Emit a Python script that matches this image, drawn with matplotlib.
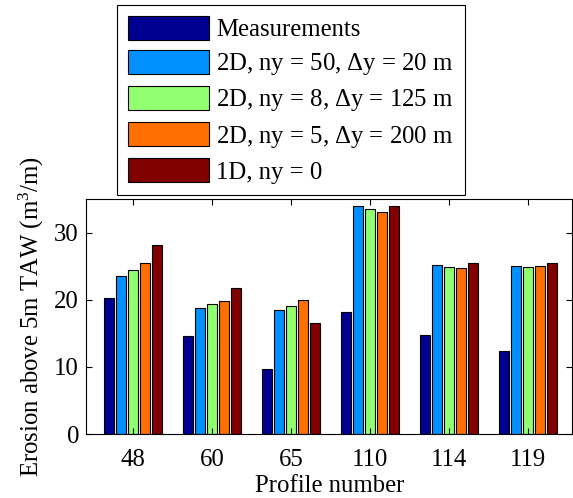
import matplotlib
matplotlib.use("Agg")
import matplotlib.pyplot as plt
import numpy as np

profiles = ["48", "60", "65", "110", "114", "119"]
series_labels = ["Measurements",
                 "2D, ny = 50, $\\Delta$y = 20 m",
                 "2D, ny = 8, $\\Delta$y = 125 m",
                 "2D, ny = 5, $\\Delta$y = 200 m",
                 "1D, ny = 0"]
measurements = [20.2, 14.6, 9.7, 18.2, 14.8, 12.4]
ny50 = [23.6, 18.7, 18.5, 34.0, 25.1, 25.0]
ny8 = [24.4, 19.3, 19.0, 33.5, 24.8, 24.9]
ny5 = [25.4, 19.8, 20.0, 33.1, 24.7, 25.0]
one_d = [28.2, 21.7, 16.6, 34.0, 25.5, 25.5]
colors = ["#000090", "#0090ff", "#90ff70", "#ff7000", "#800000"]

plt.rcParams['font.family'] = ['Liberation Serif', 'DejaVu Serif']
plt.rcParams['mathtext.fontset'] = 'custom'
plt.rcParams['mathtext.rm'] = 'Liberation Serif'
plt.rcParams['mathtext.it'] = 'Liberation Serif:italic'

FS = 17.8
fig = plt.figure(figsize=(5.73, 4.98), dpi=100)
ax = fig.add_axes([0.150, 0.1285, 0.849, 0.472])

data = [measurements, ny50, ny8, ny5, one_d]
x = np.arange(1, len(profiles) + 1)
pitch = 0.152
width = 0.132
handles = []
for i, (vals, c, lab) in enumerate(zip(data, colors, series_labels)):
    off = (i - 2) * pitch
    h = ax.bar(x + off, vals, width=width, color=c, edgecolor='black',
               linewidth=0.8, label=lab)
    handles.append(h)

ax.set_xlim(0.405, 6.56)
ax.set_ylim(0, 35)
ax.set_xticks(x)
ax.set_xticklabels(profiles)
ax.set_yticks([0, 10, 20, 30])
ax.tick_params(direction='in', top=True, right=True, labelsize=FS, length=4,
               width=0.8)
ax.tick_params(axis='x', pad=11)
ax.tick_params(axis='y', pad=5)
for s in ax.spines.values():
    s.set_linewidth(0.8)
ax.set_xlabel("Profile number", fontsize=FS, labelpad=3)
ax.set_ylabel("Erosion above 5m TAW (m$^3$/m)", fontsize=FS, labelpad=6)

leg = fig.legend(handles=handles, labels=series_labels, loc='upper left',
                 bbox_to_anchor=(0.204, 0.990), fontsize=FS, frameon=True,
                 fancybox=False, edgecolor='black', framealpha=1,
                 handlelength=3.26, handleheight=1.09, labelspacing=0.36,
                 handletextpad=0.3, borderpad=0.45, borderaxespad=0)
leg.get_frame().set_linewidth(0.8)

fig.savefig("out.png", dpi=100)
